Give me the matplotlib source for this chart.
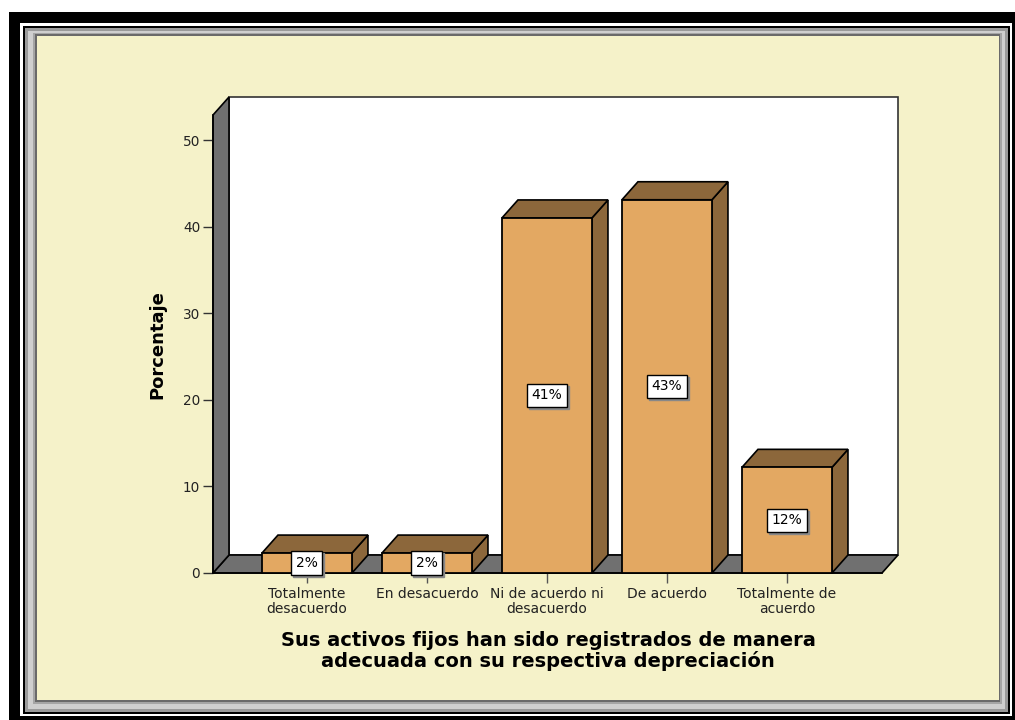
import matplotlib
matplotlib.use("Agg")
import matplotlib.pyplot as plt
from matplotlib.patches import Rectangle, Polygon

categories = ["Totalmente\ndesacuerdo", "En desacuerdo", "Ni de acuerdo ni\ndesacuerdo",
              "De acuerdo", "Totalmente de\nacuerdo"]
values = [2.3, 2.3, 41.0, 43.1, 12.2]
labels = ["2%", "2%", "41%", "43%", "12%"]
yticks = [0, 10, 20, 30, 40, 50]
ylabel = "Porcentaje"
xlabel = "Sus activos fijos han sido registrados de manera\nadecuada con su respectiva depreciación"

W, H = 1015, 720
fig = plt.figure(figsize=(W / 100, H / 100), dpi=100)
fig.patch.set_facecolor("white")

CREAM = "#F5F2C9"
FRONT = "#E3A862"
BROWN = "#8C673B"
GRAY = "#707070"


def frect(x0, y0, x1, y1, color, z=-10):
    fig.add_artist(Rectangle((x0 / W, 1 - y1 / H), (x1 - x0) / W, (y1 - y0) / H,
                             transform=fig.transFigure, facecolor=color,
                             edgecolor="none", zorder=z))

# frame
frect(9, 12, 1015, 720, "black", -20)
frect(20, 23, 1012, 716, "white", -19)
frect(23, 26, 1010, 714, "black", -18)
frect(25, 28, 1008, 712, "#9A9A9A", -17)
frect(28, 31, 1005, 709, "#CFCFCF", -16)
frect(33, 33, 1002, 704, "#A5A5A5", -15)
frect(35, 34, 1000, 702, "#6A6A6A", -14)
frect(37, 36, 999, 700, CREAM, -13)

# axes in front plane
ax_l, ax_r, ax_t, ax_b = 213, 882, 115, 573
ax = fig.add_axes([ax_l / W, 1 - ax_b / H, (ax_r - ax_l) / W, (ax_b - ax_t) / H])
ax.set_facecolor("none")
xmin, xmax = -0.783, 4.792
ytop = (ax_b - ax_t) / 8.66
ax.set_xlim(xmin, xmax)
ax.set_ylim(0, ytop)

# depth in data units
dx = 16 * (xmax - xmin) / (ax_r - ax_l)
dy = 18 * ytop / (ax_b - ax_t)

# walls
ax.add_patch(Polygon([(xmin, 0), (xmax, 0), (xmax + dx, dy), (xmin + dx, dy)],
                     closed=True, facecolor=GRAY, edgecolor="black", lw=1.2,
                     clip_on=False, zorder=1))
ax.add_patch(Polygon([(xmin, 0), (xmin, ytop), (xmin + dx, ytop + dy), (xmin + dx, dy)],
                     closed=True, facecolor=GRAY, edgecolor="black", lw=1.2,
                     clip_on=False, zorder=1))
ax.add_patch(Rectangle((xmin + dx, dy), xmax - xmin, ytop, facecolor="white",
                       edgecolor="#333333", lw=1.2, clip_on=False, zorder=0.9))

bw = 90 / 120.0
for i, v in enumerate(values):
    x0, x1 = i - bw / 2, i + bw / 2
    ax.add_patch(Polygon([(x1, 0), (x1 + dx, dy), (x1 + dx, v + dy), (x1, v)],
                         closed=True, facecolor=BROWN, edgecolor="black", lw=1.2,
                         clip_on=False, zorder=3))
    ax.add_patch(Polygon([(x0, v), (x1, v), (x1 + dx, v + dy), (x0 + dx, v + dy)],
                         closed=True, facecolor=BROWN, edgecolor="black", lw=1.2,
                         clip_on=False, zorder=3))
    ax.bar(i, v, width=bw, bottom=0, color=FRONT, edgecolor="black", lw=1.3,
           zorder=4, clip_on=False)
    # label with shadow
    ax.annotate(labels[i], (i, v / 2), xytext=(2, -2), textcoords="offset pixels",
                ha="center", va="center", fontsize=10, color="#888888",
                family="DejaVu Sans", zorder=5,
                bbox=dict(boxstyle="square,pad=0.33", fc="#888888", ec="#888888", lw=1))
    ax.annotate(labels[i], (i, v / 2), ha="center", va="center", fontsize=10,
                color="black", family="DejaVu Sans", zorder=6,
                bbox=dict(boxstyle="square,pad=0.33", fc="white", ec="black", lw=1))

for s in ["top", "right"]:
    ax.spines[s].set_visible(False)
for s in ["left", "bottom"]:
    ax.spines[s].set_color("black")
    ax.spines[s].set_linewidth(1.2)
    ax.spines[s].set_zorder(2)

ax.set_yticks(yticks)
ax.set_xticks(range(len(categories)))
ax.set_xticklabels(categories, linespacing=1.05)
ax.tick_params(axis="y", direction="out", length=7.2, width=1, color="#333333",
               pad=2, labelsize=9.8, labelcolor="#222222")
ax.tick_params(axis="x", direction="out", length=7.2, width=1, color="#555555",
               pad=3, labelsize=10, labelcolor="#222222")
for t in ax.get_xticklabels() + ax.get_yticklabels():
    t.set_family("DejaVu Sans")

fig.text(157 / W, 1 - 345 / H, ylabel, rotation=90, ha="center", va="center",
         fontsize=13, fontweight="bold", family="DejaVu Sans")
fig.text(548 / W, 1 - 651 / H, xlabel, ha="center", va="center", fontsize=14,
         fontweight="bold", family="DejaVu Sans", linespacing=1.05)

fig.savefig("out.png", dpi=100, facecolor=fig.get_facecolor())
